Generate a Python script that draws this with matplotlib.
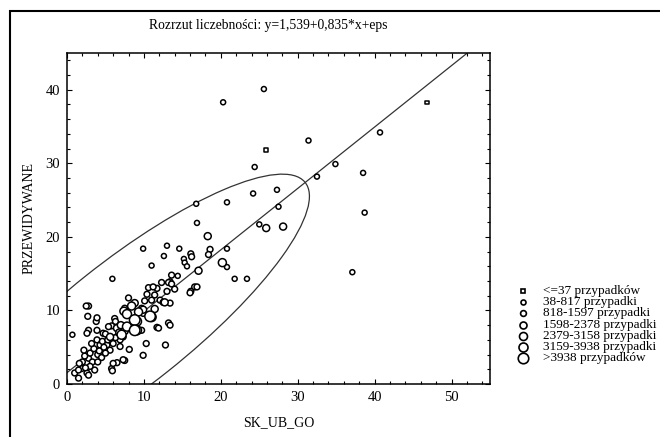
import numpy as np
import matplotlib
matplotlib.use("Agg")
import matplotlib.pyplot as plt
from matplotlib.patches import Ellipse, Rectangle
from matplotlib.lines import Line2D
from matplotlib.ticker import MultipleLocator

plt.rcParams['font.family'] = ['Liberation Serif', 'DejaVu Serif']

title = "Rozrzut liczebności: y=1,539+0,835*x+eps"
x_label = "SK_UB_GO"
y_label = "PRZEWIDYWANE"
intercept = 1.539
slope = 0.835

# confidence ellipse (centre, full axes, angle in degrees)
ell_center = (7.78, 8.21)
ell_major = 60.2
ell_minor = 16.8
ell_angle = 39.8

legend_labels = ["<=37 przypadków", "38-817 przypadki", "818-1597 przypadki",
                 "1598-2378 przypadki", "2379-3158 przypadki", "3159-3938 przypadki",
                 ">3938 przypadków"]

# points: x, y, count class (0..6)
pts_x = [20.3, 25.6, 31.4, 25.9, 24.4, 34.9, 32.5, 46.8, 40.7, 38.5, 38.7, 37.1,
         16.8, 20.8, 24.2, 27.3, 27.5, 16.9, 25.0, 25.9, 28.1, 18.3,
         9.9, 13.0, 14.6, 18.6, 20.8, 18.4,
         12.6, 16.1, 16.2, 15.2, 15.3, 15.6,
         20.2, 20.8, 21.8, 23.4,
         11.0, 5.9, 17.1, 14.4, 13.6, 13.4, 12.3, 14.0, 13.0, 12.7, 16.6, 16.1,
         12.1, 10.6, 10.4, 11.4, 11.7, 11.0, 10.1, 11.4, 10.8, 9.9, 9.3, 8.4,
         7.4, 7.8, 8.8, 8.0, 8.8, 8.8, 7.8, 7.1, 6.5, 6.2, 6.3, 5.8, 5.4, 5.6,
         4.7, 3.9, 4.3, 11.7, 13.2, 13.4, 10.3, 8.1, 9.9, 12.8, 7.5, 6.5, 5.8,
         5.9, 5.2, 5.6, 6.9, 3.9, 3.8, 3.9, 2.8, 2.8, 2.6, 0.7, 1.0, 1.5, 2.6,
         2.8, 1.9, 3.6, 2.8, 1.5,
         11.2, 13.2, 13.6, 12.5, 13.4, 16.9, 16.0, 7.5, 9.7, 9.9, 11.0, 9.1,
         9.1, 11.9, 9.7, 7.3, 6.9, 7.3, 6.0,
         2.0, 2.3, 3.0, 3.3, 3.5, 4.0, 4.2, 4.5, 4.8, 5.0, 2.2, 1.6, 3.2, 4.6,
         5.3, 6.0, 6.3, 6.8, 7.5, 7.0, 5.0, 4.0, 3.0, 2.4, 2.7, 2.5]
pts_y = [38.3, 40.1, 33.1, 31.8, 29.5, 29.9, 28.2, 38.3, 34.2, 28.7, 23.3, 15.2,
         24.5, 24.7, 25.9, 26.4, 24.1, 21.9, 21.7, 21.2, 21.4, 20.1,
         18.4, 18.8, 18.4, 18.3, 18.4, 17.6,
         17.4, 17.7, 17.3, 17.0, 16.5, 16.0,
         16.5, 15.9, 14.3, 14.3,
         16.1, 14.3, 15.4, 14.7, 14.8, 13.9, 13.8, 12.9, 12.6, 11.1, 13.2, 12.6,
         11.4, 13.1, 12.2, 12.1, 13.0, 11.4, 11.3, 10.2, 9.2, 10.1, 9.8, 10.6,
         9.9, 9.5, 11.0, 11.7, 8.7, 7.3, 7.8, 6.7, 7.6, 8.9, 8.5, 7.9, 7.8, 6.4,
         6.9, 6.0, 5.3, 7.7, 8.3, 8.0, 5.5, 4.7, 3.9, 5.3, 3.2, 2.9, 2.1,
         1.8, 5.3, 4.6, 5.1, 7.3, 8.5, 9.0, 10.6, 7.3, 6.9, 6.7, 1.5, 0.8, 1.5,
         1.2, 2.1, 1.9, 3.5, 1.9,
         13.2, 13.8, 13.6, 11.1, 11.0, 13.2, 12.4, 10.3, 10.3, 9.6, 9.1, 8.5,
         7.3, 7.6, 7.3, 6.4, 6.0, 3.3, 2.8,
         3.0, 3.8, 4.2, 3.0, 4.8, 4.0, 4.5, 3.6, 5.0, 4.2, 4.6, 2.8, 5.5, 5.8,
         6.0, 5.5, 6.3, 7.0, 7.2, 8.0, 6.8, 3.0, 2.4, 2.2, 9.2, 10.6]
pts_c = [1, 1, 1, 0, 1, 1, 1, 0, 1, 1, 1, 1,
         1, 1, 1, 1, 1, 1, 1, 3, 3, 3,
         1, 1, 1, 2, 1, 2,
         1, 2, 2, 1, 1, 1,
         4, 1, 1, 1,
         1, 1, 3, 1, 2, 2, 2, 2, 2, 3, 2, 2,
         2, 2, 2, 2, 2, 2, 2, 3, 6, 3, 4, 4,
         4, 5, 3, 2, 6, 6, 5, 5, 3, 2, 2, 2, 2, 3,
         2, 2, 2, 2, 2, 2, 2, 2, 2, 2, 2, 2, 2,
         2, 2, 2, 2, 2, 2, 2, 2, 2, 2, 1, 2, 2, 2,
         2, 2, 2, 2, 2,
         2, 2, 2, 2, 2, 2, 2, 2, 2, 2, 5, 5,
         5, 2, 2, 2, 2, 2, 2,
         2, 2, 2, 2, 2, 2, 2, 2, 2, 2, 2, 2, 2, 2,
         2, 2, 2, 3, 3, 3, 2, 2, 2, 2, 2, 2]

# marker diameters (px) per class
class_px = [3.5, 5.0, 5.8, 7.0, 8.0, 9.0, 10.5]

W, H = 660, 437
fig = plt.figure(figsize=(W/100, H/100), dpi=100)
ax = fig.add_axes([67/W, 1-384/H, (490-67)/W, (384-53)/H])
ax.set_xlim(0, 55)
ax.set_ylim(0, 45)

xs = np.linspace(0, 55, 200)
ax.plot(xs, intercept + slope*xs, color='#333333', lw=0.9, zorder=2)

ell = Ellipse(ell_center, ell_major, ell_minor, angle=ell_angle, fill=False,
              ec='#333333', lw=0.9, zorder=2)
ax.add_patch(ell)

sizes = np.array([(class_px[c]*0.72)**2 for c in pts_c])
px_ = np.array(pts_x); py_ = np.array(pts_y); pc_ = np.array(pts_c)
m0 = pc_ == 0
ax.scatter(px_[m0], py_[m0], s=sizes[m0], marker='s', facecolor='white',
           edgecolor='black', linewidths=1.1, zorder=3)
order = np.argsort(pc_, kind='stable')
order = order[pc_[order] > 0]
ax.scatter(px_[order], py_[order], s=sizes[order], marker='o',
           facecolor='white', edgecolor='black', linewidths=1.1, zorder=3)

ax.xaxis.set_major_locator(MultipleLocator(10))
ax.xaxis.set_minor_locator(MultipleLocator(2))
ax.yaxis.set_major_locator(MultipleLocator(10))
ax.yaxis.set_minor_locator(MultipleLocator(2))
ax.tick_params(which='both', direction='in', top=True, right=True, width=0.8)
ax.tick_params(which='major', length=3.5, labelsize=10.5, pad=5)
ax.tick_params(which='minor', length=2.2)
for s in ax.spines.values():
    s.set_linewidth(1.1)

ax.set_xlabel(x_label, fontsize=10, labelpad=9)
ax.set_ylabel(y_label, fontsize=10, labelpad=7)

fig.text(268/W, 1-25/H, title, fontsize=9.8, ha='center', va='center')

fig.patches.append(Rectangle((10.5/W, -0.2), 2, 1.2 - 11/H, transform=fig.transFigure,
                             fill=False, ec='black', lw=1.5, figure=fig))

leg_y = [291, 302.2, 313.4, 324.6, 335.8, 347, 358.2]
for i, lab in enumerate(legend_labels):
    yy = 1 - leg_y[i]/H
    fig.add_artist(Line2D([523/W], [yy], marker='s' if i == 0 else 'o',
                          markersize=class_px[i]*0.72, mfc='white', mec='black',
                          mew=1.2, transform=fig.transFigure, ls='none'))
    fig.text(543/W, yy, lab, fontsize=9.5, va='center', ha='left')

fig.savefig("out.png", dpi=100)
